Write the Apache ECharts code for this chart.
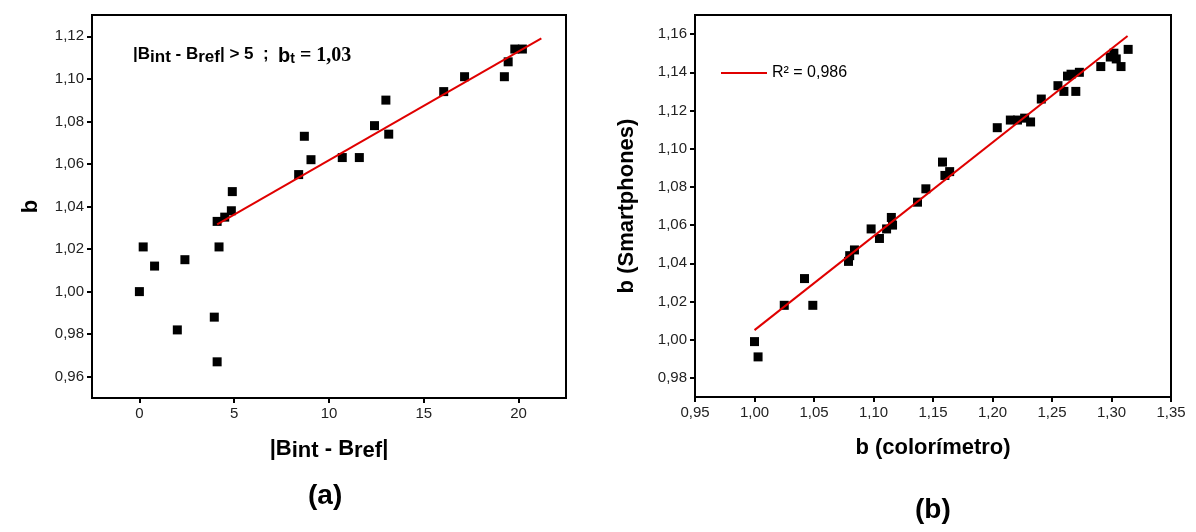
<!DOCTYPE html>
<html>
<head>
<meta charset="utf-8">
<script src="https://cdn.jsdelivr.net/npm/echarts@6/dist/echarts.min.js"></script>
<style>
html,body{margin:0;padding:0;background:#fff;}
#chart{width:1196px;height:532px;}
</style>
</head>
<body>
<div id="chart"></div>
<script>
// painel (a): |Bint - Bref| x b
var aX = [0, 0.2, 0.8, 2.0, 2.4, 3.95, 4.1, 4.2, 4.1, 4.5, 4.85, 4.9, 8.4, 8.7, 9.05, 10.7, 11.6, 12.4, 13.0, 13.15, 16.05, 17.15, 19.25, 19.45, 19.8, 20.2];
var aY = [1.000, 1.021, 1.012, 0.982, 1.015, 0.988, 0.967, 1.021, 1.033, 1.035, 1.038, 1.047, 1.055, 1.073, 1.062, 1.063, 1.063, 1.078, 1.090, 1.074, 1.094, 1.101, 1.101, 1.108, 1.114, 1.114];
var aFitX = [4.1, 21.2];
var aFitY = [1.0316, 1.119];
var aXTicks = [0, 5, 10, 15, 20];
var aYTicks = [0.96, 0.98, 1.00, 1.02, 1.04, 1.06, 1.08, 1.10, 1.12];

// painel (b): colorimetro x smartphones
var bX = [1.000, 1.003, 1.025, 1.042, 1.049, 1.079, 1.080, 1.084, 1.098, 1.105, 1.111, 1.116, 1.115, 1.137, 1.144, 1.158, 1.160, 1.164, 1.204, 1.215, 1.221, 1.227, 1.232, 1.241, 1.255, 1.260, 1.263, 1.266, 1.270, 1.273, 1.291, 1.299, 1.302, 1.304, 1.308, 1.314];
var bY = [0.999, 0.991, 1.018, 1.032, 1.018, 1.041, 1.044, 1.047, 1.058, 1.053, 1.058, 1.060, 1.064, 1.072, 1.079, 1.093, 1.086, 1.088, 1.111, 1.115, 1.115, 1.116, 1.114, 1.126, 1.133, 1.130, 1.138, 1.139, 1.130, 1.140, 1.143, 1.148, 1.150, 1.147, 1.143, 1.152];
var bFitX = [1.0, 1.3135];
var bFitY = [1.005, 1.159];
var bXTicks = [0.95, 1.00, 1.05, 1.10, 1.15, 1.20, 1.25, 1.30, 1.35];
var bYTicks = [0.98, 1.00, 1.02, 1.04, 1.06, 1.08, 1.10, 1.12, 1.14, 1.16];

function pares(xs, ys){
	var out = [];
	for(var i=0;i<xs.length;i++){
		out.push([xs[i], ys[i]]);
	}
	return out;
}
function virgula(v){
	return v.toFixed(2).replace('.', ',');
}

var fonte = 'Arial, "Liberation Sans", sans-serif';
var rotulo = {color:'#222', fontSize:15, fontFamily:fonte, margin:8};
var tick = {show:true, inside:false, length:5, lineStyle:{color:'#000', width:2}};
var nome = {color:'#000', fontSize:22, fontWeight:'bold', fontFamily:fonte};

function eixo(gi, mn, mx, ticks, fmt, extra){
	var ax = {
		type:'value', gridIndex:gi, min:mn, max:mx, scale:true,
		axisLine:{show:true, onZero:false, lineStyle:{color:'#000', width:2}},
		axisTick:Object.assign({customValues:ticks}, tick),
		axisLabel:Object.assign({customValues:ticks, formatter:fmt}, rotulo),
		splitLine:{show:false},
		nameLocation:'middle',
		nameTextStyle:nome
	};
	return Object.assign(ax, extra);
}

var charts = echarts.init(document.getElementById('chart'));
var option = {
	backgroundColor:'#fff',
	animation:false,
	grid:[
		{left:92, top:15, width:474, height:383, show:true, borderColor:'#000', borderWidth:2, backgroundColor:'transparent'},
		{left:695, top:15, width:476, height:382, show:true, borderColor:'#000', borderWidth:2, backgroundColor:'transparent'}
	],
	xAxis:[
		eixo(0, -2.5, 22.5, aXTicks, function(v){return String(v);}, {
			name:'{n||B}{s|int}{n| - B}{s|ref}{n||}', nameGap:40,
			nameTextStyle:{rich:{
				n:{fontSize:22, fontWeight:'bold', fontFamily:fonte, color:'#000', verticalAlign:'top', lineHeight:24},
				s:{fontSize:22, fontWeight:'bold', fontFamily:fonte, color:'#000', verticalAlign:'bottom', lineHeight:24}
			}}
		}),
		eixo(1, 0.95, 1.35, bXTicks, virgula, {name:'b (colorímetro)', nameGap:40})
	],
	yAxis:[
		eixo(0, 0.95, 1.13, aYTicks, virgula, {name:'b', nameGap:50}),
		eixo(1, 0.97, 1.17, bYTicks, virgula, {name:'b (Smartphones)', nameGap:57})
	],
	legend:{
		data:['R² = 0,986'],
		left:716, top:60,
		icon:'rect', itemWidth:46, itemHeight:2, itemGap:2,
		textStyle:{color:'#000', fontSize:16, fontFamily:fonte, padding:[0,0,0,0]}
	},
	graphic:[
		{type:'text', left:133, top:46, style:{
			text:'{n||B}{s|int}{n| - B}{s|ref}{n|| > 5  ;  }{b|b}{t|t}{r| = 1,03}',
			rich:{
				n:{fontSize:17, fontWeight:'bold', fontFamily:fonte, fill:'#000', verticalAlign:'top', lineHeight:20},
				s:{fontSize:17, fontWeight:'bold', fontFamily:fonte, fill:'#000', verticalAlign:'bottom', lineHeight:20},
				b:{fontSize:20, fontWeight:'bold', fontFamily:fonte, fill:'#000', verticalAlign:'top', lineHeight:20},
				t:{fontSize:14, fontWeight:'bold', fontFamily:fonte, fill:'#000', verticalAlign:'bottom', lineHeight:20},
				r:{fontSize:20, fontWeight:'bold', fontFamily:'"Liberation Serif", "Times New Roman", serif', fill:'#000', verticalAlign:'top', lineHeight:20}
			}
		}},
		{type:'text', left:308, top:482, style:{text:'(a)', fontSize:28, fontWeight:'bold', fontFamily:fonte, fill:'#000'}},
		{type:'text', left:915, top:496, style:{text:'(b)', fontSize:28, fontWeight:'bold', fontFamily:fonte, fill:'#000'}}
	],
	series:[
		{name:'a', type:'scatter', xAxisIndex:0, yAxisIndex:0, symbol:'rect', symbolSize:9,
			itemStyle:{color:'#000', opacity:1}, data:pares(aX, aY)},
		{name:'ajuste a', type:'line', xAxisIndex:0, yAxisIndex:0, showSymbol:false, symbol:'none',
			lineStyle:{color:'#e00000', width:2}, data:pares(aFitX, aFitY), z:3},
		{name:'b', type:'scatter', xAxisIndex:1, yAxisIndex:1, symbol:'rect', symbolSize:9,
			itemStyle:{color:'#000', opacity:1}, data:pares(bX, bY)},
		{name:'R² = 0,986', type:'line', xAxisIndex:1, yAxisIndex:1, showSymbol:false, symbol:'none',
			itemStyle:{color:'#e00000'},
			lineStyle:{color:'#e00000', width:2}, data:pares(bFitX, bFitY), z:3}
	]
};
charts.setOption(option);
</script>
</body>
</html>
